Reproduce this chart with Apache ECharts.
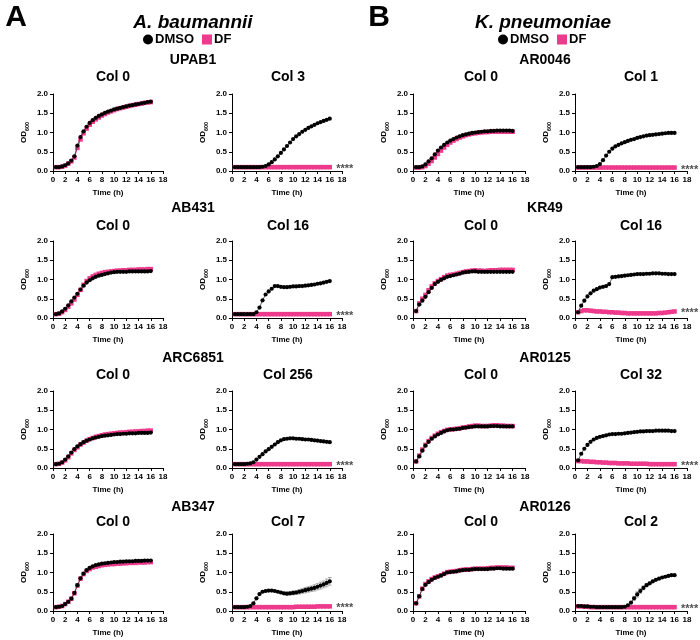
<!DOCTYPE html>
<html><head><meta charset="utf-8">
<script src="https://cdn.jsdelivr.net/npm/echarts@6/dist/echarts.min.js"></script>
<style>html,body{margin:0;padding:0;background:#fff}#c{width:700px;height:640px}</style>
</head><body><div id="c"></div>
<script>
// ---------- data ----------
const time = [0.5,1,1.5,2,2.5,3,3.5,4,4.5,5,5.5,6,6.5,7,7.5,8,8.5,9,9.5,10,10.5,11,11.5,12,12.5,13,13.5,14,14.5,15,15.5,16];
const xTicks = [0,2,4,6,8,10,12,14,16,18];
const yTicks = [0.0,0.5,1.0,1.5,2.0];
const seriesNames = ['DMSO','DF'];
const speciesTitles = ['A. baumannii','K. pneumoniae'];
const panelLetters = ['A','B'];
const aStrains = ['UPAB1','AB431','ARC6851','AB347'];
const bStrains = ['AR0046','KR49','AR0125','AR0126'];
const aCols = [['Col 0','Col 3'],['Col 0','Col 16'],['Col 0','Col 256'],['Col 0','Col 7']];
const bCols = [['Col 0','Col 1'],['Col 0','Col 16'],['Col 0','Col 32'],['Col 0','Col 2']];
const sigText = '****';

// A. baumannii
const upab1Col0Dmso = [0.10,0.10,0.12,0.15,0.20,0.27,0.38,0.66,0.88,1.03,1.15,1.25,1.32,1.38,1.43,1.47,1.51,1.54,1.57,1.60,1.62,1.64,1.66,1.68,1.70,1.71,1.73,1.74,1.76,1.77,1.79,1.80];
const upab1Col0Df   = [0.10,0.10,0.11,0.14,0.19,0.25,0.35,0.60,0.82,0.98,1.10,1.20,1.28,1.34,1.39,1.44,1.48,1.52,1.55,1.58,1.61,1.63,1.65,1.67,1.69,1.71,1.72,1.74,1.75,1.77,1.78,1.79];
const upab1Col3Dmso = [0.10,0.10,0.10,0.10,0.10,0.10,0.10,0.10,0.10,0.11,0.13,0.17,0.23,0.30,0.38,0.47,0.56,0.65,0.74,0.83,0.90,0.96,1.02,1.07,1.12,1.16,1.20,1.24,1.27,1.30,1.33,1.36];
const upab1Col3Df   = [0.10,0.10,0.10,0.10,0.10,0.10,0.10,0.10,0.10,0.10,0.10,0.10,0.10,0.10,0.10,0.10,0.10,0.10,0.10,0.10,0.10,0.10,0.10,0.10,0.10,0.10,0.10,0.10,0.10,0.10,0.10,0.10];
const ab431Col0Dmso = [0.10,0.12,0.17,0.24,0.33,0.43,0.53,0.63,0.74,0.84,0.92,0.98,1.03,1.07,1.10,1.12,1.14,1.16,1.18,1.19,1.20,1.20,1.20,1.20,1.21,1.21,1.21,1.21,1.21,1.21,1.21,1.22];
const ab431Col0Df   = [0.10,0.11,0.15,0.21,0.29,0.38,0.48,0.60,0.73,0.86,0.96,1.03,1.08,1.12,1.15,1.17,1.19,1.20,1.21,1.22,1.23,1.23,1.24,1.24,1.25,1.25,1.25,1.26,1.26,1.26,1.27,1.27];
const ab431Col16Dmso = [0.10,0.10,0.10,0.10,0.10,0.10,0.10,0.15,0.27,0.46,0.61,0.69,0.76,0.83,0.83,0.81,0.80,0.80,0.81,0.82,0.82,0.83,0.83,0.84,0.85,0.86,0.87,0.89,0.90,0.92,0.94,0.96];
const ab431Col16Df   = [0.10,0.10,0.10,0.10,0.10,0.10,0.10,0.10,0.10,0.10,0.10,0.10,0.10,0.10,0.10,0.10,0.10,0.10,0.10,0.10,0.10,0.10,0.10,0.10,0.10,0.10,0.10,0.10,0.10,0.10,0.10,0.10];
const arc6851Col0Dmso = [0.10,0.11,0.15,0.22,0.30,0.40,0.49,0.56,0.62,0.67,0.71,0.74,0.77,0.79,0.81,0.83,0.84,0.85,0.86,0.87,0.88,0.88,0.89,0.89,0.90,0.90,0.90,0.91,0.91,0.91,0.91,0.92];
const arc6851Col0Df   = [0.10,0.11,0.14,0.20,0.28,0.38,0.47,0.54,0.61,0.66,0.71,0.75,0.78,0.81,0.83,0.85,0.87,0.88,0.89,0.90,0.91,0.92,0.92,0.93,0.94,0.94,0.95,0.95,0.96,0.96,0.97,0.97];
const arc6851Col256Dmso = [0.10,0.10,0.10,0.10,0.11,0.12,0.15,0.22,0.29,0.36,0.43,0.49,0.55,0.61,0.67,0.72,0.75,0.76,0.77,0.77,0.76,0.76,0.75,0.74,0.74,0.73,0.72,0.71,0.70,0.69,0.68,0.67];
const arc6851Col256Df   = [0.10,0.10,0.10,0.10,0.10,0.10,0.10,0.10,0.10,0.10,0.10,0.10,0.10,0.10,0.10,0.10,0.10,0.10,0.10,0.10,0.10,0.10,0.10,0.10,0.10,0.10,0.10,0.10,0.10,0.10,0.10,0.10];
const ab347Col0Dmso = [0.10,0.11,0.13,0.18,0.24,0.32,0.47,0.67,0.85,0.97,1.06,1.12,1.16,1.19,1.21,1.23,1.24,1.25,1.26,1.27,1.27,1.28,1.28,1.29,1.29,1.29,1.30,1.30,1.30,1.31,1.31,1.31];
const ab347Col0Df   = [0.10,0.11,0.13,0.18,0.24,0.32,0.46,0.66,0.84,0.96,1.04,1.09,1.13,1.15,1.17,1.19,1.20,1.21,1.22,1.22,1.23,1.23,1.24,1.24,1.25,1.25,1.25,1.26,1.26,1.26,1.27,1.27];
const ab347Col7Dmso = [0.10,0.10,0.10,0.10,0.11,0.13,0.20,0.33,0.44,0.50,0.52,0.53,0.53,0.52,0.50,0.48,0.46,0.45,0.46,0.47,0.48,0.50,0.52,0.54,0.56,0.58,0.60,0.63,0.66,0.69,0.73,0.77];
const ab347Col7DmsoErr = [0,0,0,0,0,0.01,0.02,0.02,0.02,0.02,0.02,0.02,0.02,0.02,0.02,0.03,0.03,0.04,0.04,0.05,0.05,0.06,0.06,0.07,0.07,0.07,0.08,0.08,0.09,0.09,0.10,0.10];
const ab347Col7Df   = [0.10,0.10,0.10,0.10,0.10,0.10,0.10,0.10,0.10,0.10,0.10,0.10,0.10,0.10,0.10,0.10,0.10,0.10,0.10,0.10,0.11,0.11,0.11,0.11,0.11,0.11,0.11,0.12,0.12,0.12,0.12,0.12];

// K. pneumoniae
const ar0046Col0Dmso = [0.10,0.10,0.12,0.17,0.25,0.33,0.43,0.53,0.61,0.68,0.74,0.79,0.83,0.87,0.90,0.93,0.95,0.97,0.99,1.00,1.01,1.02,1.03,1.03,1.04,1.04,1.05,1.05,1.05,1.05,1.05,1.04];
const ar0046Col0Df   = [0.09,0.09,0.10,0.13,0.19,0.26,0.35,0.44,0.53,0.61,0.68,0.74,0.79,0.83,0.87,0.90,0.93,0.95,0.97,0.98,0.99,1.00,1.01,1.01,1.02,1.02,1.02,1.02,1.02,1.02,1.02,1.02];
const ar0046Col1Dmso = [0.10,0.10,0.10,0.10,0.10,0.11,0.13,0.18,0.28,0.40,0.50,0.58,0.64,0.68,0.72,0.75,0.78,0.81,0.83,0.86,0.88,0.90,0.92,0.93,0.94,0.95,0.96,0.97,0.98,0.99,0.99,0.99];
const ar0046Col1Df   = [0.09,0.09,0.09,0.09,0.09,0.09,0.09,0.09,0.09,0.09,0.09,0.09,0.09,0.09,0.09,0.09,0.09,0.09,0.09,0.09,0.09,0.09,0.09,0.09,0.09,0.09,0.09,0.09,0.09,0.09,0.09,0.09];
const kr49Col0Dmso = [0.18,0.35,0.45,0.55,0.67,0.78,0.88,0.94,0.99,1.03,1.07,1.09,1.11,1.13,1.15,1.18,1.19,1.20,1.21,1.21,1.20,1.20,1.20,1.20,1.20,1.20,1.20,1.20,1.20,1.20,1.20,1.20];
const kr49Col0Df   = [0.18,0.38,0.50,0.60,0.72,0.82,0.90,0.96,1.01,1.06,1.10,1.12,1.13,1.15,1.17,1.19,1.21,1.22,1.23,1.24,1.23,1.23,1.22,1.23,1.24,1.24,1.24,1.25,1.25,1.25,1.25,1.25];
const kr49Col16Dmso = [0.15,0.32,0.45,0.56,0.64,0.71,0.75,0.79,0.81,0.83,0.88,1.06,1.07,1.08,1.09,1.10,1.11,1.12,1.13,1.14,1.14,1.14,1.15,1.15,1.16,1.16,1.16,1.15,1.15,1.14,1.14,1.14];
const kr49Col16Df   = [0.15,0.18,0.20,0.20,0.19,0.18,0.17,0.17,0.16,0.16,0.15,0.15,0.14,0.14,0.13,0.13,0.12,0.12,0.12,0.12,0.12,0.12,0.12,0.12,0.12,0.12,0.13,0.13,0.14,0.15,0.16,0.17];
const ar0125Col0Dmso = [0.17,0.30,0.45,0.58,0.68,0.76,0.82,0.87,0.91,0.95,0.98,1.00,1.00,1.01,1.02,1.04,1.05,1.06,1.07,1.08,1.08,1.08,1.08,1.08,1.09,1.09,1.09,1.08,1.08,1.08,1.08,1.08];
const ar0125Col0Df   = [0.17,0.32,0.48,0.60,0.70,0.78,0.84,0.89,0.93,0.96,0.99,1.00,1.01,1.02,1.03,1.05,1.06,1.08,1.09,1.10,1.10,1.09,1.09,1.09,1.10,1.11,1.11,1.10,1.10,1.09,1.09,1.09];
const ar0125Col32Dmso = [0.20,0.37,0.50,0.60,0.68,0.74,0.78,0.81,0.83,0.85,0.87,0.88,0.88,0.89,0.89,0.90,0.91,0.92,0.93,0.94,0.95,0.95,0.96,0.96,0.96,0.97,0.97,0.97,0.97,0.97,0.96,0.96];
const ar0125Col32Df   = [0.18,0.18,0.17,0.17,0.16,0.16,0.15,0.15,0.14,0.14,0.13,0.13,0.13,0.12,0.12,0.12,0.12,0.11,0.11,0.11,0.11,0.11,0.11,0.10,0.10,0.10,0.10,0.10,0.10,0.10,0.10,0.10];
const ar0126Col0Dmso = [0.20,0.38,0.57,0.68,0.75,0.81,0.86,0.89,0.92,0.96,1.00,1.01,1.02,1.03,1.05,1.06,1.07,1.07,1.08,1.09,1.09,1.09,1.09,1.09,1.10,1.10,1.11,1.11,1.10,1.10,1.10,1.10];
const ar0126Col0Df   = [0.20,0.38,0.58,0.70,0.77,0.83,0.87,0.90,0.93,0.97,1.01,1.02,1.03,1.04,1.06,1.07,1.08,1.08,1.09,1.10,1.10,1.10,1.10,1.11,1.12,1.12,1.13,1.13,1.13,1.13,1.12,1.12];
const ar0126Col2Dmso = [0.13,0.13,0.12,0.12,0.11,0.11,0.10,0.10,0.10,0.10,0.10,0.10,0.10,0.10,0.10,0.11,0.15,0.22,0.33,0.43,0.52,0.60,0.67,0.72,0.77,0.81,0.84,0.87,0.89,0.91,0.93,0.93];
const ar0126Col2DmsoErr = [0.01,0.01,0.01,0.01,0.01,0.01,0.01,0.01,0.01,0.01,0.01,0.01,0.01,0.01,0.01,0.01,0.02,0.03,0.05,0.07,0.06,0.05,0.04,0.03,0.03,0.02,0.02,0.02,0.02,0.02,0.02,0.02];
const ar0126Col2Df   = [0.12,0.12,0.11,0.11,0.10,0.10,0.10,0.10,0.10,0.10,0.10,0.10,0.10,0.10,0.10,0.10,0.10,0.10,0.10,0.10,0.10,0.10,0.10,0.10,0.10,0.10,0.10,0.10,0.10,0.10,0.10,0.10];

// ---------- layout / style ----------
const FONT = '"Liberation Sans", Arial, Helvetica, sans-serif';
const PINK = '#ee3a8c';
const BLACK = '#000';
const colLeft = [53, 232, 413, 575];
const colWidth = [110, 110, 112, 112];
const rowTop = [94, 241, 391, 534];
const plotH = 77;
const colTitleX = [113, 288, 481, 641];
const strainY = [60, 208, 358, 507];
const colTitleY = [77, 226, 375, 522];
const sideCenterX = [193, 545];

const panels = [
  {c:0,r:0,d:upab1Col0Dmso,f:upab1Col0Df},
  {c:1,r:0,d:upab1Col3Dmso,f:upab1Col3Df,stars:true},
  {c:0,r:1,d:ab431Col0Dmso,f:ab431Col0Df},
  {c:1,r:1,d:ab431Col16Dmso,f:ab431Col16Df,stars:true},
  {c:0,r:2,d:arc6851Col0Dmso,f:arc6851Col0Df},
  {c:1,r:2,d:arc6851Col256Dmso,f:arc6851Col256Df,stars:true},
  {c:0,r:3,d:ab347Col0Dmso,f:ab347Col0Df},
  {c:1,r:3,d:ab347Col7Dmso,f:ab347Col7Df,e:ab347Col7DmsoErr,stars:true},
  {c:2,r:0,d:ar0046Col0Dmso,f:ar0046Col0Df},
  {c:3,r:0,d:ar0046Col1Dmso,f:ar0046Col1Df,stars:true},
  {c:2,r:1,d:kr49Col0Dmso,f:kr49Col0Df},
  {c:3,r:1,d:kr49Col16Dmso,f:kr49Col16Df,stars:true},
  {c:2,r:2,d:ar0125Col0Dmso,f:ar0125Col0Df},
  {c:3,r:2,d:ar0125Col32Dmso,f:ar0125Col32Df,stars:true},
  {c:2,r:3,d:ar0126Col0Dmso,f:ar0126Col0Df},
  {c:3,r:3,d:ar0126Col2Dmso,f:ar0126Col2Df,e:ar0126Col2DmsoErr,stars:true}
];

function pairs(ys){ return time.map((t,i)=>[t, ys[i]]); }

function renderErr(params, api){
  const x = api.value(0), lo = api.value(1), hi = api.value(2);
  const p1 = api.coord([x, lo]), p2 = api.coord([x, hi]);
  const w = 1.8;
  const st = {stroke:'#777', lineWidth:0.6, fill:null};
  return {type:'group', children:[
    {type:'line', shape:{x1:p1[0],y1:p1[1],x2:p2[0],y2:p2[1]}, style:st},
    {type:'line', shape:{x1:p1[0]-w,y1:p1[1],x2:p1[0]+w,y2:p1[1]}, style:st},
    {type:'line', shape:{x1:p2[0]-w,y1:p2[1],x2:p2[0]+w,y2:p2[1]}, style:st}
  ]};
}

const grids = [], xAxes = [], yAxes = [], series = [];
const labelStyle = {fontSize:8, fontWeight:'bold', color:BLACK, fontFamily:FONT};
panels.forEach((p, i) => {
  grids.push({left:colLeft[p.c], top:rowTop[p.r], width:colWidth[p.c], height:plotH});
  xAxes.push({
    gridIndex:i, type:'value', min:xTicks[0], max:xTicks[xTicks.length-1], interval:xTicks[1]-xTicks[0],
    axisLine:{show:true, onZero:false, lineStyle:{color:BLACK, width:1}},
    axisTick:{show:true, length:3, lineStyle:{color:BLACK, width:1}},
    axisLabel:Object.assign({margin:5, showMinLabel:true, showMaxLabel:true}, labelStyle),
    splitLine:{show:false},
    name:'Time (h)', nameLocation:'middle', nameGap:18,
    nameTextStyle:{fontSize:8, fontWeight:'bold', color:BLACK, fontFamily:FONT}
  });
  yAxes.push({
    gridIndex:i, type:'value', min:yTicks[0], max:yTicks[yTicks.length-1], interval:yTicks[1]-yTicks[0],
    axisLine:{show:true, onZero:false, lineStyle:{color:BLACK, width:1}},
    axisTick:{show:true, length:3, lineStyle:{color:BLACK, width:1}},
    axisLabel:Object.assign({margin:5, formatter:v=>v.toFixed(1)}, labelStyle),
    splitLine:{show:false},
    name:'{a|OD}{b|600}', nameLocation:'middle', nameGap:23, nameRotate:90,
    nameTextStyle:{fontFamily:FONT, rich:{
      a:{fontSize:8, fontWeight:'bold', color:BLACK, fontFamily:FONT, lineHeight:12, verticalAlign:'middle'},
      b:{fontSize:5.5, fontWeight:'bold', color:BLACK, fontFamily:FONT, lineHeight:12, verticalAlign:'bottom', padding:[5,0,0,0]}
    }}
  });
  if (p.e) {
    series.push({type:'custom', name:'err'+i, xAxisIndex:i, yAxisIndex:i, silent:true, z:1,
      renderItem:renderErr, encode:{x:0, y:[1,2]},
      data: time.map((t,k)=>[t, p.d[k]-p.e[k], p.d[k]+p.e[k]])});
  }
  series.push({type:'line', name:seriesNames[1], xAxisIndex:i, yAxisIndex:i, data:pairs(p.f),
    symbol:'rect', symbolSize:4.5, showSymbol:true, color:PINK,
    itemStyle:{color:PINK}, lineStyle:{color:PINK, width:1}, animation:false, z:2});
  series.push({type:'line', name:seriesNames[0], xAxisIndex:i, yAxisIndex:i, data:pairs(p.d),
    symbol:'circle', symbolSize:4.2, showSymbol:true, color:BLACK,
    itemStyle:{color:BLACK}, lineStyle:{color:'#333', width:0.8}, animation:false, z:3});
  if (p.stars) {
    const last = time.length-1;
    series.push({type:'scatter', name:'sig'+i, xAxisIndex:i, yAxisIndex:i, silent:true,
      data:[[time[last], p.f[last]]], symbolSize:1, itemStyle:{color:'rgba(0,0,0,0)'},
      label:{show:true, formatter:sigText, position:'right', distance:6, offset:[0,2],
        fontSize:11, fontWeight:'bold', color:'#222', fontFamily:FONT}, animation:false, z:4});
  }
});

const graphics = [];
function txt(x, y, s, size, extra){
  graphics.push({type:'text', x:x, y:y, silent:true,
    style:Object.assign({text:s, fontSize:size, fontWeight:'bold', fontFamily:FONT, fill:BLACK,
      textAlign:'center', textVerticalAlign:'middle'}, extra||{})});
}
txt(16, 18, panelLetters[0], 30);
txt(379, 18, panelLetters[1], 30);
txt(sideCenterX[0], 23, speciesTitles[0], 19, {fontStyle:'italic'});
txt(543, 23, speciesTitles[1], 19, {fontStyle:'italic'});
[aStrains, bStrains].forEach((strains, s) => {
  const cols = s === 0 ? aCols : bCols;
  strains.forEach((name, r) => {
    txt(sideCenterX[s], strainY[r], name, 14);
    txt(colTitleX[s*2], colTitleY[r], cols[r][0], 14);
    txt(colTitleX[s*2+1], colTitleY[r], cols[r][1], 14);
  });
});

const legendBase = {
  data:[{name:seriesNames[0], icon:'circle'},{name:seriesNames[1], icon:'rect'}],
  top:33, itemWidth:10, itemHeight:10, itemGap:8, selectedMode:false, padding:0,
  textStyle:{fontSize:13, fontWeight:'bold', color:BLACK, fontFamily:FONT, padding:[0,0,0,-3]}
};

const chart = echarts.init(document.getElementById('c'), null, {renderer:'canvas'});
chart.setOption({
  backgroundColor:'#fff',
  animation:false,
  grid:grids, xAxis:xAxes, yAxis:yAxes, series:series,
  legend:[Object.assign({left:143}, legendBase), Object.assign({left:498}, legendBase)],
  graphic:graphics
});
</script></body></html>
